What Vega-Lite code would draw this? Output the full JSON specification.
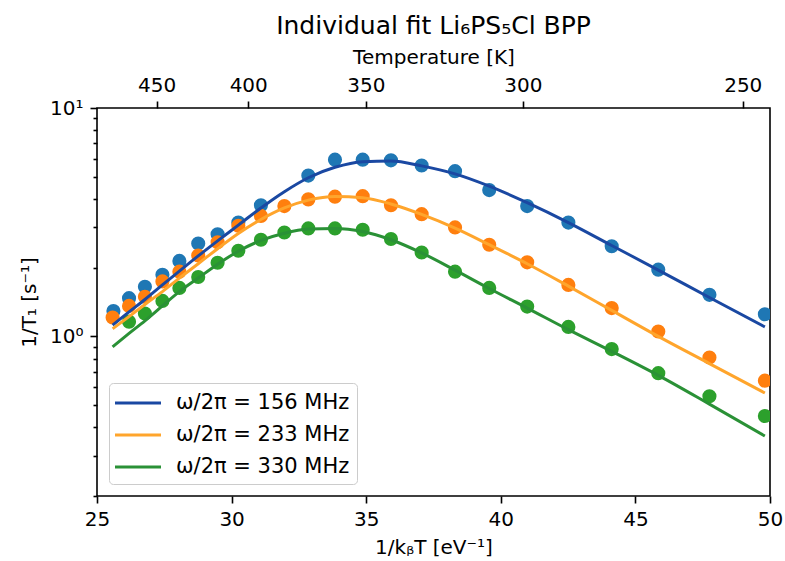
{
  "$schema": "https://vega.github.io/schema/vega-lite/v6.json",
  "autosize": {"type": "none"},
  "padding": {"left": 97, "top": 108, "right": 15, "bottom": 65},
  "width": 673,
  "height": 388,
  "config": {
    "font": "DejaVu Sans",
    "view": {"stroke": "black", "strokeWidth": 1.6},
    "axis": {"grid": false, "domain": false, "labelFlush": false, "labelOverlap": false, "tickColor": "black", "tickWidth": 1.6, "labelColor": "black", "titleColor": "black", "labelFontSize": 20, "titleFontSize": 20, "titleFontWeight": "normal", "labelFont": "DejaVu Sans", "titleFont": "DejaVu Sans"}
  },
  "title": {"text": "Individual fit Li₆PS₅Cl BPP", "fontSize": 25, "fontWeight": "normal", "font": "DejaVu Sans", "color": "black", "offset": 8},
  "datasets": {
    "pts": [
      {"f": "ω/2π = 156 MHz", "x": 25.61, "y": 1.29},
      {"f": "ω/2π = 156 MHz", "x": 26.19, "y": 1.47},
      {"f": "ω/2π = 156 MHz", "x": 26.78, "y": 1.65},
      {"f": "ω/2π = 156 MHz", "x": 27.43, "y": 1.86},
      {"f": "ω/2π = 156 MHz", "x": 28.06, "y": 2.14},
      {"f": "ω/2π = 156 MHz", "x": 28.76, "y": 2.55},
      {"f": "ω/2π = 156 MHz", "x": 29.48, "y": 2.80},
      {"f": "ω/2π = 156 MHz", "x": 30.25, "y": 3.15},
      {"f": "ω/2π = 156 MHz", "x": 31.09, "y": 3.75},
      {"f": "ω/2π = 156 MHz", "x": 32.85, "y": 5.06},
      {"f": "ω/2π = 156 MHz", "x": 33.84, "y": 5.94},
      {"f": "ω/2π = 156 MHz", "x": 34.87, "y": 5.94},
      {"f": "ω/2π = 156 MHz", "x": 35.92, "y": 5.90},
      {"f": "ω/2π = 156 MHz", "x": 37.06, "y": 5.60},
      {"f": "ω/2π = 156 MHz", "x": 38.30, "y": 5.29},
      {"f": "ω/2π = 156 MHz", "x": 39.57, "y": 4.37},
      {"f": "ω/2π = 156 MHz", "x": 40.98, "y": 3.72},
      {"f": "ω/2π = 156 MHz", "x": 42.51, "y": 3.15},
      {"f": "ω/2π = 156 MHz", "x": 44.12, "y": 2.48},
      {"f": "ω/2π = 156 MHz", "x": 45.85, "y": 1.96},
      {"f": "ω/2π = 156 MHz", "x": 47.75, "y": 1.52},
      {"f": "ω/2π = 156 MHz", "x": 49.81, "y": 1.25},
      {"f": "ω/2π = 233 MHz", "x": 25.58, "y": 1.21},
      {"f": "ω/2π = 233 MHz", "x": 26.19, "y": 1.36},
      {"f": "ω/2π = 233 MHz", "x": 26.78, "y": 1.49},
      {"f": "ω/2π = 233 MHz", "x": 27.43, "y": 1.74},
      {"f": "ω/2π = 233 MHz", "x": 28.06, "y": 1.92},
      {"f": "ω/2π = 233 MHz", "x": 28.76, "y": 2.26},
      {"f": "ω/2π = 233 MHz", "x": 29.48, "y": 2.58},
      {"f": "ω/2π = 233 MHz", "x": 30.25, "y": 3.05},
      {"f": "ω/2π = 233 MHz", "x": 31.09, "y": 3.37},
      {"f": "ω/2π = 233 MHz", "x": 31.96, "y": 3.72},
      {"f": "ω/2π = 233 MHz", "x": 32.85, "y": 3.98},
      {"f": "ω/2π = 233 MHz", "x": 33.84, "y": 4.09},
      {"f": "ω/2π = 233 MHz", "x": 34.87, "y": 4.11},
      {"f": "ω/2π = 233 MHz", "x": 35.92, "y": 3.75},
      {"f": "ω/2π = 233 MHz", "x": 37.06, "y": 3.43},
      {"f": "ω/2π = 233 MHz", "x": 38.30, "y": 3.00},
      {"f": "ω/2π = 233 MHz", "x": 39.57, "y": 2.52},
      {"f": "ω/2π = 233 MHz", "x": 40.98, "y": 2.11},
      {"f": "ω/2π = 233 MHz", "x": 42.51, "y": 1.68},
      {"f": "ω/2π = 233 MHz", "x": 44.12, "y": 1.33},
      {"f": "ω/2π = 233 MHz", "x": 45.85, "y": 1.05},
      {"f": "ω/2π = 233 MHz", "x": 47.75, "y": 0.808},
      {"f": "ω/2π = 233 MHz", "x": 49.81, "y": 0.64},
      {"f": "ω/2π = 330 MHz", "x": 26.19, "y": 1.16},
      {"f": "ω/2π = 330 MHz", "x": 26.78, "y": 1.26},
      {"f": "ω/2π = 330 MHz", "x": 27.43, "y": 1.43},
      {"f": "ω/2π = 330 MHz", "x": 28.06, "y": 1.63},
      {"f": "ω/2π = 330 MHz", "x": 28.76, "y": 1.82},
      {"f": "ω/2π = 330 MHz", "x": 29.48, "y": 2.10},
      {"f": "ω/2π = 330 MHz", "x": 30.25, "y": 2.37},
      {"f": "ω/2π = 330 MHz", "x": 31.09, "y": 2.65},
      {"f": "ω/2π = 330 MHz", "x": 31.96, "y": 2.85},
      {"f": "ω/2π = 330 MHz", "x": 32.85, "y": 2.97},
      {"f": "ω/2π = 330 MHz", "x": 33.84, "y": 2.97},
      {"f": "ω/2π = 330 MHz", "x": 34.87, "y": 2.93},
      {"f": "ω/2π = 330 MHz", "x": 35.92, "y": 2.67},
      {"f": "ω/2π = 330 MHz", "x": 37.06, "y": 2.33},
      {"f": "ω/2π = 330 MHz", "x": 38.30, "y": 1.92},
      {"f": "ω/2π = 330 MHz", "x": 39.57, "y": 1.63},
      {"f": "ω/2π = 330 MHz", "x": 40.98, "y": 1.35},
      {"f": "ω/2π = 330 MHz", "x": 42.51, "y": 1.10},
      {"f": "ω/2π = 330 MHz", "x": 44.12, "y": 0.88},
      {"f": "ω/2π = 330 MHz", "x": 45.85, "y": 0.69},
      {"f": "ω/2π = 330 MHz", "x": 47.75, "y": 0.547},
      {"f": "ω/2π = 330 MHz", "x": 49.81, "y": 0.448}
    ],
    "fit": [
      {"f": "ω/2π = 156 MHz", "x": 25.58, "y": 1.12},
      {"f": "ω/2π = 156 MHz", "x": 26.19, "y": 1.28},
      {"f": "ω/2π = 156 MHz", "x": 26.78, "y": 1.45},
      {"f": "ω/2π = 156 MHz", "x": 27.43, "y": 1.68},
      {"f": "ω/2π = 156 MHz", "x": 28.06, "y": 1.93},
      {"f": "ω/2π = 156 MHz", "x": 28.76, "y": 2.25},
      {"f": "ω/2π = 156 MHz", "x": 29.48, "y": 2.62},
      {"f": "ω/2π = 156 MHz", "x": 30.25, "y": 3.07},
      {"f": "ω/2π = 156 MHz", "x": 31.09, "y": 3.65},
      {"f": "ω/2π = 156 MHz", "x": 31.96, "y": 4.30},
      {"f": "ω/2π = 156 MHz", "x": 32.85, "y": 4.95},
      {"f": "ω/2π = 156 MHz", "x": 33.84, "y": 5.50},
      {"f": "ω/2π = 156 MHz", "x": 34.87, "y": 5.82},
      {"f": "ω/2π = 156 MHz", "x": 35.92, "y": 5.86},
      {"f": "ω/2π = 156 MHz", "x": 37.06, "y": 5.58},
      {"f": "ω/2π = 156 MHz", "x": 38.30, "y": 5.15},
      {"f": "ω/2π = 156 MHz", "x": 39.57, "y": 4.55},
      {"f": "ω/2π = 156 MHz", "x": 40.98, "y": 3.85},
      {"f": "ω/2π = 156 MHz", "x": 42.51, "y": 3.15},
      {"f": "ω/2π = 156 MHz", "x": 44.12, "y": 2.50},
      {"f": "ω/2π = 156 MHz", "x": 45.85, "y": 1.95},
      {"f": "ω/2π = 156 MHz", "x": 47.75, "y": 1.48},
      {"f": "ω/2π = 156 MHz", "x": 49.81, "y": 1.10},
      {"f": "ω/2π = 233 MHz", "x": 25.58, "y": 1.08},
      {"f": "ω/2π = 233 MHz", "x": 26.19, "y": 1.22},
      {"f": "ω/2π = 233 MHz", "x": 26.78, "y": 1.38},
      {"f": "ω/2π = 233 MHz", "x": 27.43, "y": 1.57},
      {"f": "ω/2π = 233 MHz", "x": 28.06, "y": 1.80},
      {"f": "ω/2π = 233 MHz", "x": 28.76, "y": 2.08},
      {"f": "ω/2π = 233 MHz", "x": 29.48, "y": 2.42},
      {"f": "ω/2π = 233 MHz", "x": 30.25, "y": 2.82},
      {"f": "ω/2π = 233 MHz", "x": 31.09, "y": 3.25},
      {"f": "ω/2π = 233 MHz", "x": 31.96, "y": 3.65},
      {"f": "ω/2π = 233 MHz", "x": 32.85, "y": 3.95},
      {"f": "ω/2π = 233 MHz", "x": 33.84, "y": 4.10},
      {"f": "ω/2π = 233 MHz", "x": 34.87, "y": 4.05},
      {"f": "ω/2π = 233 MHz", "x": 35.92, "y": 3.80},
      {"f": "ω/2π = 233 MHz", "x": 37.06, "y": 3.42},
      {"f": "ω/2π = 233 MHz", "x": 38.30, "y": 2.98},
      {"f": "ω/2π = 233 MHz", "x": 39.57, "y": 2.52},
      {"f": "ω/2π = 233 MHz", "x": 40.98, "y": 2.08},
      {"f": "ω/2π = 233 MHz", "x": 42.51, "y": 1.66},
      {"f": "ω/2π = 233 MHz", "x": 44.12, "y": 1.30},
      {"f": "ω/2π = 233 MHz", "x": 45.85, "y": 1.00},
      {"f": "ω/2π = 233 MHz", "x": 47.75, "y": 0.76},
      {"f": "ω/2π = 233 MHz", "x": 49.81, "y": 0.565},
      {"f": "ω/2π = 330 MHz", "x": 25.58, "y": 0.90},
      {"f": "ω/2π = 330 MHz", "x": 26.19, "y": 1.03},
      {"f": "ω/2π = 330 MHz", "x": 26.78, "y": 1.17},
      {"f": "ω/2π = 330 MHz", "x": 27.43, "y": 1.36},
      {"f": "ω/2π = 330 MHz", "x": 28.06, "y": 1.57},
      {"f": "ω/2π = 330 MHz", "x": 28.76, "y": 1.80},
      {"f": "ω/2π = 330 MHz", "x": 29.48, "y": 2.07},
      {"f": "ω/2π = 330 MHz", "x": 30.25, "y": 2.36},
      {"f": "ω/2π = 330 MHz", "x": 31.09, "y": 2.63},
      {"f": "ω/2π = 330 MHz", "x": 31.96, "y": 2.83},
      {"f": "ω/2π = 330 MHz", "x": 32.85, "y": 2.95},
      {"f": "ω/2π = 330 MHz", "x": 33.84, "y": 2.97},
      {"f": "ω/2π = 330 MHz", "x": 34.87, "y": 2.88},
      {"f": "ω/2π = 330 MHz", "x": 35.92, "y": 2.65},
      {"f": "ω/2π = 330 MHz", "x": 37.06, "y": 2.32},
      {"f": "ω/2π = 330 MHz", "x": 38.30, "y": 1.95},
      {"f": "ω/2π = 330 MHz", "x": 39.57, "y": 1.62},
      {"f": "ω/2π = 330 MHz", "x": 40.98, "y": 1.33},
      {"f": "ω/2π = 330 MHz", "x": 42.51, "y": 1.07},
      {"f": "ω/2π = 330 MHz", "x": 44.12, "y": 0.86},
      {"f": "ω/2π = 330 MHz", "x": 45.85, "y": 0.675},
      {"f": "ω/2π = 330 MHz", "x": 47.75, "y": 0.505},
      {"f": "ω/2π = 330 MHz", "x": 49.81, "y": 0.366}
    ]
  },
  "layer": [
    {
      "data": {"name": "pts"},
      "mark": {"type": "circle", "size": 200, "opacity": 1, "clip": true},
      "encoding": {
        "x": {"field": "x", "type": "quantitative", "scale": {"domain": [25, 50], "nice": false, "zero": false},
          "axis": {"orient": "bottom", "values": [25, 30, 35, 40, 45, 50], "tickSize": 7, "labelPadding": 6, "title": "1/kᵦT [eV⁻¹]", "titlePadding": 8}},
        "y": {"field": "y", "type": "quantitative", "scale": {"type": "log", "domain": [0.2, 10], "nice": false},
          "axis": {"orient": "left", "values": [1, 10], "labelExpr": "datum.value == 1 ? '10⁰' : '10¹'", "tickSize": 7, "labelPadding": 7, "title": "1/T₁ [s⁻¹]", "titlePadding": 10}},
        "color": {"field": "f", "type": "nominal", "scale": {"range": ["#1f77b4", "#ff7f0e", "#2ca02c"]}, "legend": null}
      }
    },
    {
      "data": {"name": "fit"},
      "mark": {"type": "line", "strokeWidth": 3, "interpolate": "monotone"},
      "encoding": {
        "x": {"field": "x", "type": "quantitative",
          "axis": {"orient": "top", "values": [27.216, 30.618, 34.991, 40.823, 48.988], "labelExpr": "format(12247 / datum.value, '.0f')", "tickSize": 7, "labelPadding": 6, "title": "Temperature [K]", "titlePadding": 8}},
        "y": {"field": "y", "type": "quantitative",
          "axis": {"orient": "left", "values": [0.2, 0.3, 0.4, 0.5, 0.6, 0.7, 0.8, 0.9, 2, 3, 4, 5, 6, 7, 8, 9], "tickSize": 4, "labels": false, "title": null}},
        "color": {"field": "f", "type": "nominal", "scale": {"range": ["#1a48a2", "#ffa52c", "#2a9136"]},
          "legend": {"orient": "bottom-left", "offset": 12, "title": null, "symbolType": "M-2,0H2", "symbolSize": 529, "symbolOffset": 9, "symbolStrokeWidth": 3, "labelFontSize": 21, "labelFont": "DejaVu Sans", "labelColor": "black", "labelLimit": 0, "labelOffset": 25, "rowPadding": 9, "padding": 7, "strokeColor": "#cccccc", "fillColor": "white", "cornerRadius": 4}}
      }
    }
  ],
  "resolve": {"scale": {"color": "independent"}, "axis": {"x": "independent", "y": "independent"}}
}
